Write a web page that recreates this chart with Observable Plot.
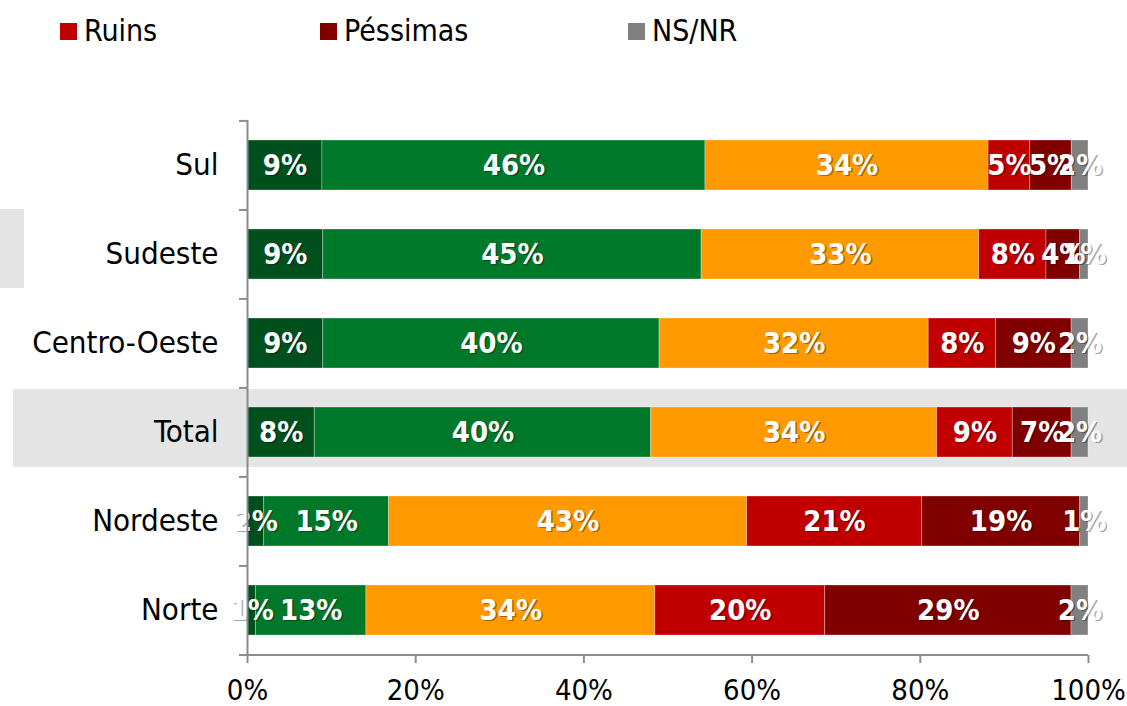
<!DOCTYPE html>
<html><head><meta charset="utf-8">
<script src="https://cdn.jsdelivr.net/npm/d3@7"></script>
<script src="https://cdn.jsdelivr.net/npm/@observablehq/plot@0.6"></script>
<style>
body{margin:0;background:#fff;width:1127px;height:706px;overflow:hidden;position:relative;font-family:"DejaVu Sans Condensed","DejaVu Sans",sans-serif;}
#legend{position:relative;height:70px;}
.item{position:absolute;top:14px;display:flex;align-items:center;font-size:30px;color:#000;line-height:34px;}
.sw{width:17px;height:17px;margin-right:7px;}
.band{position:absolute;background:#e4e4e4;}
#chart{position:absolute;top:70px;left:0;}
</style></head><body>
<div class="band" style="left:13px;top:389px;width:1114px;height:78px;"></div>
<div class="band" style="left:0px;top:209px;width:24px;height:79px;"></div>
<div id="legend"></div>
<div id="chart"></div>
<script>
const regions = ["Sul","Sudeste","Centro-Oeste","Total","Nordeste","Norte"];
const categories = ["Ótimas","Boas","Regulares","Ruins","Péssimas","NS/NR"];
const otimas    = [9, 9, 9, 8, 2, 1];
const boas      = [46,45,40,40,15,13];
const regulares = [34,33,32,34,43,34];
const ruins     = [5, 8, 8, 9, 21,20];
const pessimas  = [5, 4, 9, 7, 19,29];
const nsnr      = [2, 1, 2, 2, 1, 2];
const colors = ["#00501e","#007829","#ff9900","#c00000","#800000","#808080"];
const legendShown = ["Ruins","Péssimas","NS/NR"];
const xTicks = [0,0.2,0.4,0.6,0.8,1];

const series = [otimas,boas,regulares,ruins,pessimas,nsnr];
const data = regions.flatMap((r,i)=>series.map((s,j)=>({region:r,category:categories[j],value:s[i]})));

// legend
const legendX = [60,320,628];
const lg = document.getElementById("legend");
legendShown.forEach((c,k)=>{
  const it=document.createElement("div");it.className="item";it.style.left=legendX[k]+"px";
  const sw=document.createElement("div");sw.className="sw";sw.style.background=colors[categories.indexOf(c)];
  const tx=document.createElement("span");tx.textContent=c;
  it.appendChild(sw);it.appendChild(tx);lg.appendChild(it);
});

const W=1127,H=636,mt=50,mb=51,ml=247,mr=39;
const step=(H-mt-mb)/regions.length;
const fmt=d=>Math.round(d*100)+"%";
const stk=o=>Plot.stackX({x:"value",y:"region",offset:"normalize",...o});
const boundaries = regions.map(r=>({region:r}));

const chart = Plot.plot({
  width:W,height:H,marginTop:mt,marginBottom:mb,marginLeft:ml,marginRight:mr,
  style:{background:"transparent",fontFamily:'"DejaVu Sans Condensed","DejaVu Sans",sans-serif'},
  x:{domain:[0,1],label:null},
  y:{domain:regions,paddingInner:0.44,paddingOuter:0.22,label:null},
  color:{domain:categories,range:colors},
  marks:[
    Plot.barX(data,stk({fill:"category",stroke:"white",strokeOpacity:0.3,strokeWidth:1})),
    Plot.text(data,stk({text:d=>d.value+"%",fill:"black",fillOpacity:0.35,dx:1.5,dy:1.5,fontSize:29,fontWeight:"bold"})),
    Plot.text(data,stk({text:d=>d.value+"%",fill:"white",fontSize:29,fontWeight:"bold"})),
    Plot.ruleX([0],{stroke:"#8c8c8c",strokeWidth:2}),
    Plot.ruleY(boundaries,{y:"region",x1:()=>-0.0095,x2:()=>0,dy:-step/2,stroke:"#8c8c8c",strokeWidth:2}),
    Plot.ruleY([{region:"Norte"}],{y:"region",x1:()=>-0.0095,x2:()=>1,dy:step/2,stroke:"#8c8c8c",strokeWidth:2}),
    Plot.axisX(xTicks,{tickFormat:fmt,tickSize:8,tickPadding:16,fontSize:29,stroke:"#8c8c8c",strokeWidth:2,fill:"black",label:null}),
    Plot.axisY({tickSize:0,tickPadding:29,fontSize:31,fill:"black",label:null})
  ]
});
document.getElementById("chart").appendChild(chart);
</script>
</body></html>
